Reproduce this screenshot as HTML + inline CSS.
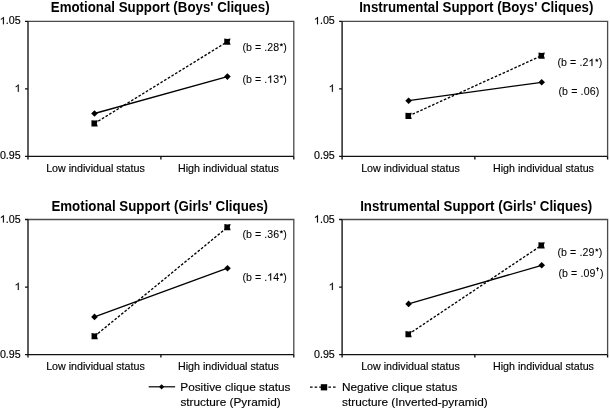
<!DOCTYPE html>
<html><head><meta charset="utf-8"><style>
html,body{margin:0;padding:0;background:#fff;}
svg{display:block;will-change:transform;}
#w{width:610px;height:410px;overflow:hidden;}
text{font-family:"Liberation Sans",sans-serif;fill:#000;}
.ti{font-weight:bold;font-size:13.3px;}
.ax{font-size:10.7px;stroke:#000;stroke-width:0.15px;}
.an{font-size:10.6px;stroke:#000;stroke-width:0.05px;}
.sup{font-size:7px;}
.lg{font-size:11.8px;stroke:#000;stroke-width:0.15px;}
.o1,.o2{fill:transparent;stroke:none;}
.star{fill:#000;stroke:#000;stroke-width:0.2px;}
.one{fill:#000;stroke:#000;stroke-width:0.15px;vector-effect:non-scaling-stroke;}
</style></head><body>
<div id="w"><svg width="610" height="410" viewBox="0 0 610 410">
<rect width="610" height="410" fill="#fff"/>
<path d="M28.00 21.30H293.80V156.40" fill="none" stroke="#4a4a4a" stroke-width="1.3"/>
<path d="M28.00 21.30V159.40M25.00 21.30H28.00M25.00 88.85H28.00M25.00 156.40H293.80M160.90 156.40V159.40M293.80 156.40V159.40" fill="none" stroke="#111" stroke-width="1.35"/>
<text x="20.70" y="24.30" text-anchor="end" class="ax"><tspan class="o1">1</tspan>.05</text>
<text x="20.70" y="91.85" text-anchor="end" class="ax"><tspan class="o1">1</tspan></text>
<text x="20.70" y="159.40" text-anchor="end" class="ax">0.95</text>
<text x="95.45" y="172.30" text-anchor="middle" class="ax">Low individual status</text>
<text x="228.45" y="172.30" text-anchor="middle" class="ax">High individual status</text>
<text transform="translate(160.20 11.75) scale(1 1.05)" text-anchor="middle" class="ti">Emotional Support (Boys' Cliques)</text>
<line x1="94.5" y1="113.5" x2="227.4" y2="76.6" stroke="#000" stroke-width="1.3"/>
<line x1="94.6" y1="123.4" x2="227.4" y2="41.7" stroke="#000" stroke-width="1.35" stroke-dasharray="2.6 1.7"/>
<path d="M94.5 110.20L97.80 113.5L94.5 116.80L91.20 113.5Z" fill="#000"/>
<path d="M227.4 73.30L230.70 76.6L227.4 79.90L224.10 76.6Z" fill="#000"/>
<path d="M91.45 120.25L94.60 120.60L97.75 120.25L96.85 123.40L97.75 126.55L91.45 126.55Z" fill="#000"/>
<path d="M224.25 38.55L227.40 38.90L230.55 38.55L229.65 41.70L230.55 44.85L224.25 44.85Z" fill="#000"/>
<text x="242.4" y="50.7" class="an" style="letter-spacing:0.06px">(b = .28<tspan class="o2">*</tspan>)</text>
<text x="242.4" y="82.7" class="an" style="letter-spacing:0.06px">(b = .<tspan class="o1">1</tspan>3<tspan class="o2">*</tspan>)</text>
<path d="M342.10 21.30H607.60V156.40" fill="none" stroke="#4a4a4a" stroke-width="1.3"/>
<path d="M342.10 21.30V159.40M339.10 21.30H342.10M339.10 88.85H342.10M339.10 156.40H607.60M474.85 156.40V159.40M607.60 156.40V159.40" fill="none" stroke="#111" stroke-width="1.35"/>
<text x="334.80" y="24.30" text-anchor="end" class="ax"><tspan class="o1">1</tspan>.05</text>
<text x="334.80" y="91.85" text-anchor="end" class="ax"><tspan class="o1">1</tspan></text>
<text x="334.80" y="159.40" text-anchor="end" class="ax">0.95</text>
<text x="410.45" y="172.30" text-anchor="middle" class="ax">Low individual status</text>
<text x="543.45" y="172.30" text-anchor="middle" class="ax">High individual status</text>
<text transform="translate(476.30 11.75) scale(1 1.05)" text-anchor="middle" class="ti">Instrumental Support (Boys' Cliques)</text>
<line x1="408.6" y1="100.7" x2="541.7" y2="82.3" stroke="#000" stroke-width="1.3"/>
<line x1="408.6" y1="115.9" x2="541.7" y2="55.7" stroke="#000" stroke-width="1.35" stroke-dasharray="2.6 1.7"/>
<path d="M408.6 97.40L411.90 100.7L408.6 104.00L405.30 100.7Z" fill="#000"/>
<path d="M541.7 79.00L545.00 82.3L541.7 85.60L538.40 82.3Z" fill="#000"/>
<path d="M405.45 112.75L408.60 113.10L411.75 112.75L410.85 115.90L411.75 119.05L405.45 119.05Z" fill="#000"/>
<path d="M538.55 52.55L541.70 52.90L544.85 52.55L543.95 55.70L544.85 58.85L538.55 58.85Z" fill="#000"/>
<text x="557.4" y="66.1" class="an" style="letter-spacing:0.11px">(b = .2<tspan class="o1">1</tspan><tspan class="o2">*</tspan>)</text>
<text x="558.4" y="94.5" class="an" style="letter-spacing:0.14px">(b = .06)</text>
<path d="M28.00 219.50H293.80V354.60" fill="none" stroke="#4a4a4a" stroke-width="1.3"/>
<path d="M28.00 219.50V357.60M25.00 219.50H28.00M25.00 287.05H28.00M25.00 354.60H293.80M160.90 354.60V357.60M293.80 354.60V357.60" fill="none" stroke="#111" stroke-width="1.35"/>
<text x="20.70" y="222.50" text-anchor="end" class="ax"><tspan class="o1">1</tspan>.05</text>
<text x="20.70" y="290.05" text-anchor="end" class="ax"><tspan class="o1">1</tspan></text>
<text x="20.70" y="357.60" text-anchor="end" class="ax">0.95</text>
<text x="95.45" y="369.75" text-anchor="middle" class="ax">Low individual status</text>
<text x="228.45" y="369.75" text-anchor="middle" class="ax">High individual status</text>
<text transform="translate(159.70 210.55) scale(1 1.05)" text-anchor="middle" class="ti">Emotional Support (Girls' Cliques)</text>
<line x1="94.5" y1="316.9" x2="227.5" y2="268.2" stroke="#000" stroke-width="1.3"/>
<line x1="94.7" y1="336.2" x2="227.5" y2="227.2" stroke="#000" stroke-width="1.35" stroke-dasharray="2.6 1.7"/>
<path d="M94.5 313.60L97.80 316.9L94.5 320.20L91.20 316.9Z" fill="#000"/>
<path d="M227.5 264.90L230.80 268.2L227.5 271.50L224.20 268.2Z" fill="#000"/>
<path d="M91.55 333.05L94.70 333.40L97.85 333.05L96.95 336.20L97.85 339.35L91.55 339.35Z" fill="#000"/>
<path d="M224.35 224.05L227.50 224.40L230.65 224.05L229.75 227.20L230.65 230.35L224.35 230.35Z" fill="#000"/>
<text x="242.4" y="237.7" class="an" style="letter-spacing:0.06px">(b = .36<tspan class="o2">*</tspan>)</text>
<text x="242.4" y="280.5" class="an" style="letter-spacing:0.06px">(b = .<tspan class="o1">1</tspan>4<tspan class="o2">*</tspan>)</text>
<path d="M342.10 219.50H607.60V354.60" fill="none" stroke="#4a4a4a" stroke-width="1.3"/>
<path d="M342.10 219.50V357.60M339.10 219.50H342.10M339.10 287.05H342.10M339.10 354.60H607.60M474.85 354.60V357.60M607.60 354.60V357.60" fill="none" stroke="#111" stroke-width="1.35"/>
<text x="334.80" y="222.50" text-anchor="end" class="ax"><tspan class="o1">1</tspan>.05</text>
<text x="334.80" y="290.05" text-anchor="end" class="ax"><tspan class="o1">1</tspan></text>
<text x="334.80" y="357.60" text-anchor="end" class="ax">0.95</text>
<text x="410.45" y="369.75" text-anchor="middle" class="ax">Low individual status</text>
<text x="543.45" y="369.75" text-anchor="middle" class="ax">High individual status</text>
<text transform="translate(476.20 210.55) scale(1 1.05)" text-anchor="middle" class="ti">Instrumental Support (Girls' Cliques)</text>
<line x1="408.6" y1="303.9" x2="541.7" y2="265.3" stroke="#000" stroke-width="1.3"/>
<line x1="408.6" y1="334.2" x2="541.6" y2="245.3" stroke="#000" stroke-width="1.35" stroke-dasharray="2.6 1.7"/>
<path d="M408.6 300.60L411.90 303.9L408.6 307.20L405.30 303.9Z" fill="#000"/>
<path d="M541.7 262.00L545.00 265.3L541.7 268.60L538.40 265.3Z" fill="#000"/>
<path d="M405.45 331.05L408.60 331.40L411.75 331.05L410.85 334.20L411.75 337.35L405.45 337.35Z" fill="#000"/>
<path d="M538.45 242.15L541.60 242.50L544.75 242.15L543.85 245.30L544.75 248.45L538.45 248.45Z" fill="#000"/>
<text x="557.4" y="255.9" class="an" style="letter-spacing:0.11px">(b = .29<tspan class="o2">*</tspan>)</text>
<text x="558.4" y="276.9" class="an" style="letter-spacing:0.1px">(b = .09</text>
<path d="M597.55 267.2V271.2M596.2 268.6H598.9" stroke="#000" stroke-width="0.9" fill="none"/>
<text x="600.1" y="276.9" class="an">)</text>
<line x1="148.7" y1="386.8" x2="175.1" y2="386.8" stroke="#000" stroke-width="1.2"/>
<path d="M161.6 384.2L164.2 386.8L161.6 389.4L159 386.8Z" fill="#000"/>
<text x="180.3" y="390.9" class="lg">Positive clique status</text>
<text x="180.4" y="406.4" class="lg">structure (Pyramid)</text>
<line x1="310" y1="387.2" x2="335.7" y2="387.2" stroke="#000" stroke-width="1.2" stroke-dasharray="2.6 2"/>
<rect x="320.8" y="384.2" width="6.4" height="6.2" fill="#000"/>
<text x="341.9" y="390.9" class="lg">Negative clique status</text>
<text x="342.1" y="406.2" class="lg">structure (Inverted-pyramid)</text>
<path d="M763 0H583V1147Q518 1085 400 1018T190 922V1096Q371 1174 481 1273T644 1466H763Z" transform="translate(-0.11 24.30) scale(0.005225 -0.005021)" class="one"/>
<path d="M763 0H583V1147Q518 1085 400 1018T190 922V1096Q371 1174 481 1273T644 1466H763Z" transform="translate(14.75 91.85) scale(0.005225 -0.005021)" class="one"/>
<path d="M763 0H583V1147Q518 1085 400 1018T190 922V1096Q371 1174 481 1273T644 1466H763Z" transform="translate(267.20 82.70) scale(0.005176 -0.004974)" class="one"/>
<path d="M763 0H583V1147Q518 1085 400 1018T190 922V1096Q371 1174 481 1273T644 1466H763Z" transform="translate(313.99 24.30) scale(0.005225 -0.005021)" class="one"/>
<path d="M763 0H583V1147Q518 1085 400 1018T190 922V1096Q371 1174 481 1273T644 1466H763Z" transform="translate(328.85 91.85) scale(0.005225 -0.005021)" class="one"/>
<path d="M763 0H583V1147Q518 1085 400 1018T190 922V1096Q371 1174 481 1273T644 1466H763Z" transform="translate(588.51 66.10) scale(0.005176 -0.004974)" class="one"/>
<path d="M763 0H583V1147Q518 1085 400 1018T190 922V1096Q371 1174 481 1273T644 1466H763Z" transform="translate(-0.11 222.50) scale(0.005225 -0.005021)" class="one"/>
<path d="M763 0H583V1147Q518 1085 400 1018T190 922V1096Q371 1174 481 1273T644 1466H763Z" transform="translate(14.75 290.05) scale(0.005225 -0.005021)" class="one"/>
<path d="M763 0H583V1147Q518 1085 400 1018T190 922V1096Q371 1174 481 1273T644 1466H763Z" transform="translate(267.20 280.50) scale(0.005176 -0.004974)" class="one"/>
<path d="M763 0H583V1147Q518 1085 400 1018T190 922V1096Q371 1174 481 1273T644 1466H763Z" transform="translate(313.99 222.50) scale(0.005225 -0.005021)" class="one"/>
<path d="M763 0H583V1147Q518 1085 400 1018T190 922V1096Q371 1174 481 1273T644 1466H763Z" transform="translate(328.85 290.05) scale(0.005225 -0.005021)" class="one"/>
<path d="M281.40 43.19L281.87 44.29L283.12 44.37L282.16 45.13L282.46 46.28L281.40 45.66L280.35 46.28L280.64 45.13L279.69 44.37L280.93 44.29Z" class="star"/>
<path d="M281.40 75.19L281.87 76.29L283.12 76.37L282.16 77.13L282.46 78.28L281.40 77.66L280.35 78.28L280.64 77.13L279.69 76.37L280.93 76.29Z" class="star"/>
<path d="M596.83 58.59L597.30 59.69L598.54 59.77L597.59 60.53L597.88 61.68L596.83 61.06L595.77 61.68L596.06 60.53L595.11 59.77L596.35 59.69Z" class="star"/>
<path d="M281.40 230.19L281.87 231.29L283.12 231.37L282.16 232.13L282.46 233.28L281.40 232.66L280.35 233.28L280.64 232.13L279.69 231.37L280.93 231.29Z" class="star"/>
<path d="M281.40 272.99L281.87 274.09L283.12 274.17L282.16 274.93L282.46 276.08L281.40 275.46L280.35 276.08L280.64 274.93L279.69 274.17L280.93 274.09Z" class="star"/>
<path d="M596.81 248.39L597.28 249.49L598.52 249.57L597.57 250.33L597.87 251.48L596.81 250.86L595.75 251.48L596.05 250.33L595.10 249.57L596.34 249.49Z" class="star"/>
</svg></div>
</body></html>
